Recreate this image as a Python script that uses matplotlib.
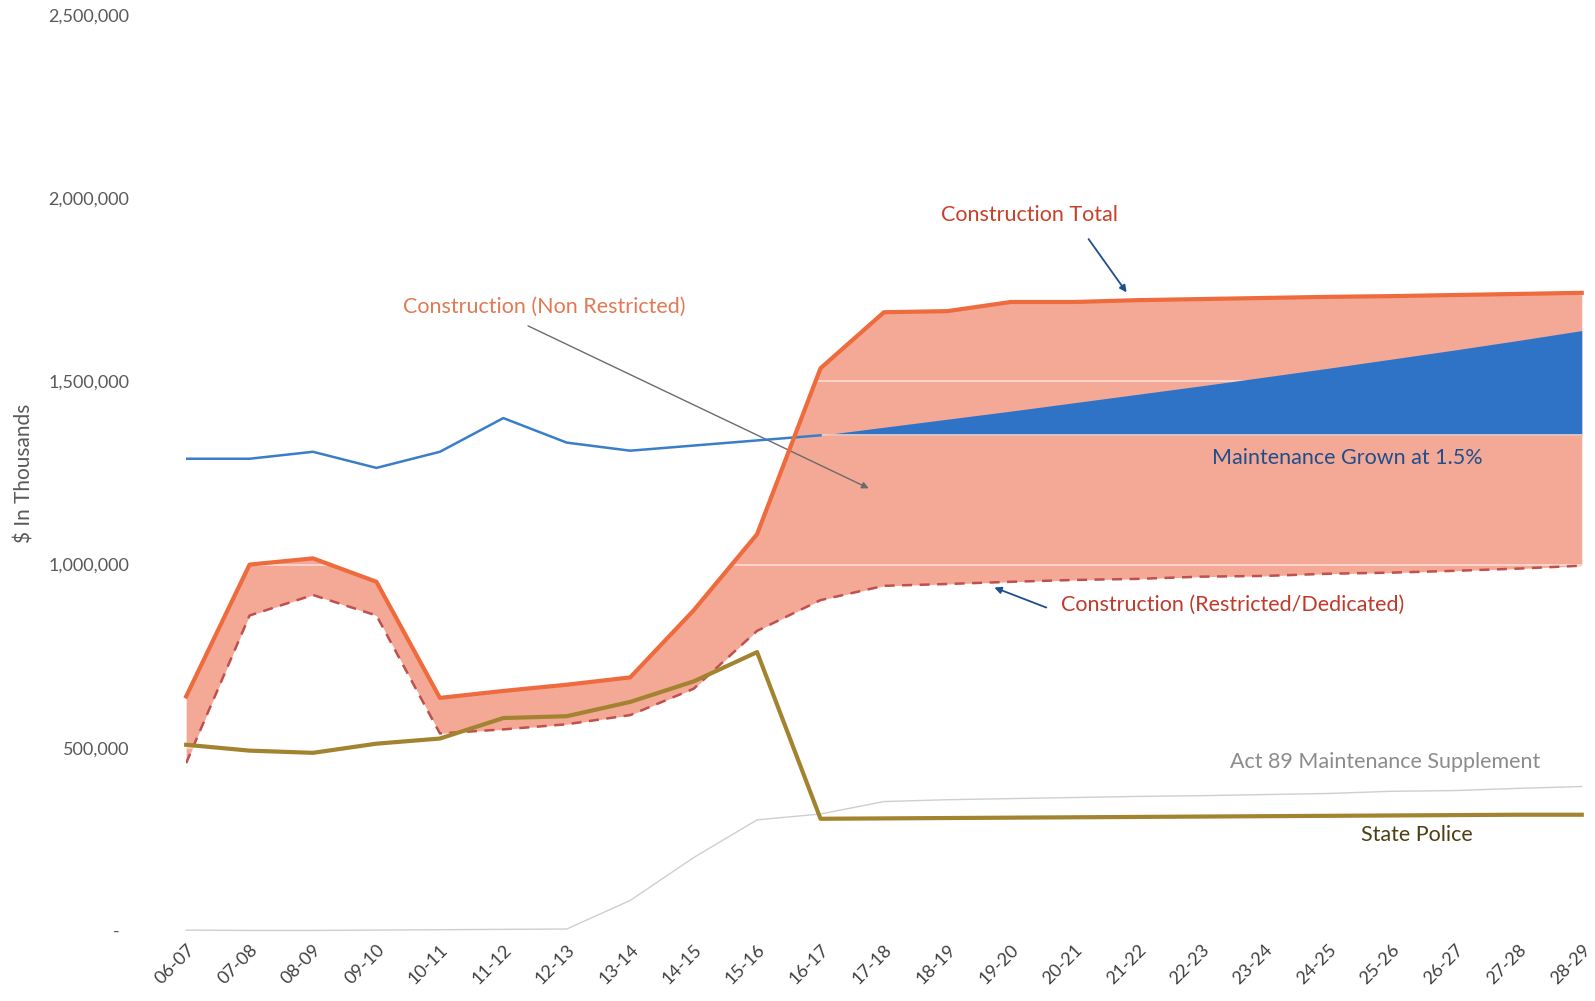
import numpy as np
import matplotlib
matplotlib.use('Agg')
import matplotlib.pyplot as plt

plt.rcParams['font.family'] = ['Lato', 'DejaVu Sans']

years = ['06-07', '07-08', '08-09', '09-10', '10-11', '11-12', '12-13', '13-14',
         '14-15', '15-16', '16-17', '17-18', '18-19', '19-20', '20-21', '21-22',
         '22-23', '23-24', '24-25', '25-26', '26-27', '27-28', '28-29']

# $ in thousands
construction_total = [640000, 1000000, 1017000, 953000, 636000, 655000, 672000, 692000,
                      875000, 1083000, 1536000, 1689000, 1692000, 1717000, 1717000, 1722000,
                      1725000, 1728000, 1731000, 1733000, 1736000, 1739000, 1742000]
construction_restricted = [458000, 861000, 917000, 861000, 539000, 550000, 564000, 589000,
                           661000, 819000, 903000, 942000, 947000, 953000, 958000, 961000,
                           967000, 969000, 975000, 978000, 983000, 989000, 997000]
maintenance = [1289000, 1289000, 1308000, 1264000, 1308000, 1400000, 1333000, 1311000,
               1325000, 1339000, 1353000]
maint_grown = [1353000, 1375000, 1397000, 1419000, 1442000, 1465000, 1488000, 1512000,
               1536000, 1561000, 1586000, 1612000, 1639000]
maint_flat = 1353000
state_police = [508000, 492000, 486000, 511000, 525000, 581000, 586000, 625000,
                681000, 761000, 306000, 307000, 308000, 309000, 310000, 311000,
                312000, 313000, 314000, 315000, 316000, 317000, 317000]
act89 = [2000, 1000, 1000, 2000, 3000, 4000, 5000, 83000,
         200000, 303000, 319000, 353000, 358000, 361000, 364000, 367000,
         369000, 372000, 375000, 381000, 383000, 389000, 394000]

x = np.arange(len(years))
xg = x[10:]

fig = plt.figure(figsize=(15.95, 10.01), dpi=100)
ax = fig.add_axes([0.1167, 0.0701, 0.875, 0.9147])

# construction band
ax.fill_between(x, construction_restricted, construction_total, color='#f4a896', lw=0, zorder=1)
# gridlines, only visible on the band
for v in [500000, 1000000, 1500000, 2000000]:
    ax.axhline(v, color='white', alpha=0.55, lw=1.3, zorder=2)

# maintenance wedge
ax.fill_between(xg, maint_flat, maint_grown, color='#2f73c6', lw=0, zorder=3)
ax.plot(xg, [maint_flat] * len(xg), color='#f8d0c2', lw=1.2, zorder=3)
ax.plot(x[:11], maintenance, color='#3a7dc9', lw=1.8, zorder=4)

ax.plot(x, act89, color='#cfcfcf', lw=1.0, zorder=4, clip_on=False)
ax.plot(x, construction_restricted, color='#c0504d', lw=1.8, ls=(0, (4, 3)), zorder=5)
ax.plot(x, construction_total, color='#ee6b3d', lw=3, zorder=5, clip_on=False)
ax.plot(x, state_police, color='#a2832f', lw=3, zorder=6, clip_on=False)

# annotations
arrow_kw = dict(arrowstyle='-|>', color='#1f4e8c', lw=1.3, mutation_scale=10)
ax.text(13.3, 1955000, 'Construction Total', color='#c9402a', fontsize=15.5,
        ha='center', va='center')
ax.annotate('', xy=(14.85, 1737000), xytext=(14.2, 1895000), arrowprops=arrow_kw)

ax.text(5.65, 1705000, 'Construction (Non Restricted)', color='#e07a55', fontsize=15.5,
        ha='center', va='center')
ax.annotate('', xy=(10.8, 1205000), xytext=(5.35, 1655000),
            arrowprops=dict(arrowstyle='-|>', color='#6b6b6b', lw=1.0, mutation_scale=10))

ax.text(18.3, 1290000, 'Maintenance Grown at 1.5%', color='#1f4e8c', fontsize=15.5,
        ha='center', va='center')

ax.text(16.5, 890000, 'Construction (Restricted/Dedicated)', color='#c0392b', fontsize=15.5,
        ha='center', va='center')
ax.annotate('', xy=(12.7, 940000), xytext=(13.6, 880000), arrowprops=arrow_kw)

ax.text(18.9, 462000, 'Act 89 Maintenance Supplement', color='#8c8c8c', fontsize=15.5,
        ha='center', va='center')
ax.text(19.4, 262000, 'State Police', color='#4d3f14', fontsize=15.5, ha='center', va='center')

ax.set_xlim(0, 22)
ax.set_ylim(0, 2500000)
ax.set_xticks(x)
ax.set_xticklabels(years, rotation=45, ha='right', rotation_mode='anchor', fontsize=13,
                   color='#404040')
yt = [0, 500000, 1000000, 1500000, 2000000, 2500000]
ax.set_yticks(yt)
ax.set_yticklabels(['-  '] + ['{:,}'.format(v) for v in yt[1:]], fontsize=13, color='#595959')
ax.tick_params(axis='y', length=0, pad=41)
ax.tick_params(axis='x', length=0, pad=8)
for s in ax.spines.values():
    s.set_visible(False)
ax.set_ylabel('$ In Thousands', fontsize=15, color='#595959', labelpad=10)

fig.savefig('out.png', dpi=100)
